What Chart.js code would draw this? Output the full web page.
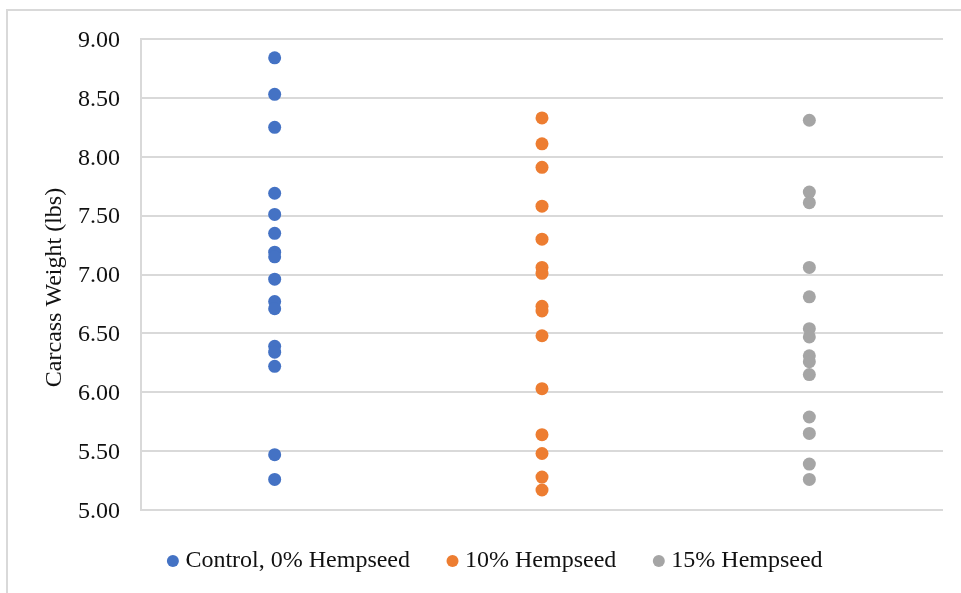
<!DOCTYPE html>
<html>
<head>
<meta charset="utf-8">
<script src="https://cdn.jsdelivr.net/npm/chart.js@4/dist/chart.umd.min.js"></script>
<style>
  html, body { margin: 0; padding: 0; background: #ffffff; overflow: hidden; }
  #wrap { position: relative; width: 961px; height: 593px; }
  #frame { position: absolute; left: 6px; top: 9px; width: 1200px; height: 1200px;
           border-left: 2px solid #d9d9d9; border-top: 2px solid #d9d9d9; }
  canvas { position: absolute; left: 0; top: 0; }
</style>
</head>
<body>
<div id="wrap">
  <div id="frame"></div>
  <canvas id="c" width="961" height="593"></canvas>
</div>
<script>
// ---- data ----
const seriesNames = ["Control, 0% Hempseed", "10% Hempseed", "15% Hempseed"];
const control = [8.84, 8.53, 8.25, 7.69, 7.51, 7.35, 7.19, 7.15, 6.96, 6.77, 6.71, 6.39, 6.34, 6.22, 5.47, 5.26];
const hemp10  = [8.33, 8.11, 7.91, 7.58, 7.30, 7.06, 7.01, 6.73, 6.69, 6.48, 6.03, 5.64, 5.48, 5.28, 5.17];
const hemp15  = [8.31, 7.70, 7.61, 7.06, 6.81, 6.54, 6.47, 6.31, 6.26, 6.15, 5.79, 5.65, 5.39, 5.26];
const yTitle = "Carcass Weight (lbs)";
const yMin = 5.0, yMax = 9.0, yStep = 0.5;

const colors = ["#4472C4", "#ED7D31", "#A5A5A5"];
const FONT = "'Liberation Serif', 'Times New Roman', serif";
const FONT_SIZE = 24;
const TEXT_COLOR = '#111111';
const groups = [control, hemp10, hemp15];

const datasets = groups.map((vals, i) => ({
  label: seriesNames[i],
  data: vals.map(v => ({ x: i + 1, y: v })),
  backgroundColor: colors[i],
  borderColor: colors[i],
  borderWidth: 0,
  pointRadius: 6.5,
  pointHoverRadius: 6.5,
  pointStyle: 'circle'
}));

// nudge the legend row to where the reference places it
const legendShift = {
  id: 'legendShift',
  afterLayout(chart) {
    const lg = chart.legend;
    if (!lg) return;
    lg.top -= 3; lg.bottom -= 3;
    lg.left += 26; lg.right += 26;
  }
};

// vertical axis title, placed like in the reference (slightly below plot centre)
const yAxisTitle = {
  id: 'yAxisTitle',
  afterDraw(chart) {
    const ctx = chart.ctx;
    const area = chart.chartArea;
    ctx.save();
    ctx.translate(55, (area.top + area.bottom) / 2 + 13);
    ctx.rotate(-Math.PI / 2);
    ctx.font = FONT_SIZE + "px " + FONT;
    ctx.fillStyle = TEXT_COLOR;
    ctx.textAlign = 'center';
    ctx.textBaseline = 'middle';
    ctx.fillText(yTitle, 0, 0);
    ctx.restore();
  }
};

new Chart(document.getElementById('c'), {
  type: 'scatter',
  data: { datasets },
  plugins: [legendShift, yAxisTitle],
  options: {
    responsive: false,
    animation: false,
    layout: { padding: { left: 0, right: 18, top: 39, bottom: 7 } },
    plugins: {
      tooltip: { enabled: false },
      legend: {
        position: 'bottom',
        labels: {
          usePointStyle: true,
          pointStyle: 'circle',
          boxWidth: 1,
          boxHeight: 8.5,
          padding: 42,
          color: TEXT_COLOR,
          font: { family: FONT, size: FONT_SIZE }
        }
      }
    },
    scales: {
      x: {
        type: 'linear',
        min: 0.5,
        max: 3.5,
        display: false
      },
      y: {
        min: yMin,
        max: yMax,
        afterFit(scale) { scale.width = 141; },
        ticks: {
          stepSize: yStep,
          padding: 21,
          labelOffset: 1.5,
          color: TEXT_COLOR,
          font: { family: FONT, size: FONT_SIZE },
          callback: v => Number(v).toFixed(2)
        },
        grid: { color: '#d9d9d9', lineWidth: 2, drawTicks: false },
        border: { display: true, color: '#d9d9d9', width: 2 },
        title: { display: false, text: yTitle }
      }
    }
  }
});
</script>
</body>
</html>
